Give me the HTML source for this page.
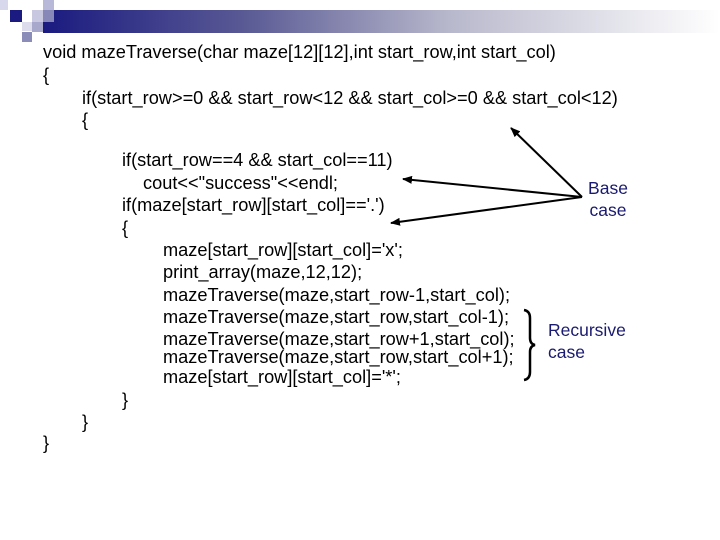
<!DOCTYPE html>
<html><head><style>
body{margin:0;width:720px;height:540px;background:#fff;position:relative;overflow:hidden;font-family:"Liberation Sans",Arial,sans-serif;}
.t{position:absolute;font-size:18.2px;line-height:22px;white-space:pre;color:#000;}
.b{position:absolute;font-size:17.5px;line-height:22px;color:#1a1a70;text-align:center;}
.sq{position:absolute;}
</style></head><body>
<div class="sq" style="left:43px;top:10px;width:677px;height:23px;background:linear-gradient(to right,#1a1a80 0%,#5a5a95 30%,#b8b8cc 60%,#fff 100%)"></div>
<div class="sq" style="left:0;top:0;width:8px;height:10px;background:#d8d8ec"></div>
<div class="sq" style="left:10px;top:10px;width:12px;height:12px;background:#1a1a80"></div>
<div class="sq" style="left:32px;top:10px;width:11px;height:12px;background:#c8c8e0"></div>
<div class="sq" style="left:43px;top:0;width:11px;height:10px;background:#b8b8d8"></div>
<div class="sq" style="left:43px;top:10px;width:11px;height:12px;background:#8888b8"></div>
<div class="sq" style="left:22px;top:22px;width:10px;height:9px;background:#dcdcec"></div>
<div class="sq" style="left:32px;top:22px;width:11px;height:10px;background:#a8a8cc"></div>
<div class="sq" style="left:22px;top:32px;width:10px;height:10px;background:#8c8cb8"></div>

<div class="t" style="left:43px;top:41px">void mazeTraverse(char maze[12][12],int start_row,int start_col)</div>
<div class="t" style="left:43px;top:64px">{</div>
<div class="t" style="left:82px;top:87px">if(start_row>=0 &amp;&amp; start_row&lt;12 &amp;&amp; start_col>=0 &amp;&amp; start_col&lt;12)</div>
<div class="t" style="left:82px;top:109px">{</div>
<div class="t" style="left:122px;top:149px">if(start_row==4 &amp;&amp; start_col==11)</div>
<div class="t" style="left:143px;top:172px">cout&lt;&lt;"success"&lt;&lt;endl;</div>
<div class="t" style="left:122px;top:194px">if(maze[start_row][start_col]=='.')</div>
<div class="t" style="left:122px;top:217px">{</div>
<div class="t" style="left:163px;top:239px">maze[start_row][start_col]='x';</div>
<div class="t" style="left:163px;top:261px">print_array(maze,12,12);</div>
<div class="t" style="left:163px;top:284px">mazeTraverse(maze,start_row-1,start_col);</div>
<div class="t" style="left:163px;top:306px">mazeTraverse(maze,start_row,start_col-1);</div>
<div class="t" style="left:163px;top:328px">mazeTraverse(maze,start_row+1,start_col);</div>
<div class="t" style="left:163px;top:346px">mazeTraverse(maze,start_row,start_col+1);</div>
<div class="t" style="left:163px;top:366px">maze[start_row][start_col]='*';</div>
<div class="t" style="left:122px;top:389px">}</div>
<div class="t" style="left:82px;top:411px">}</div>
<div class="t" style="left:43px;top:432px">}</div>

<div class="b" style="left:582px;top:177px;width:52px">Base<br>case</div>
<div class="b" style="left:548px;top:319px;text-align:left">Recursive<br>case</div>

<svg width="720" height="540" style="position:absolute;left:0;top:0">
<defs><marker id="a" markerWidth="10" markerHeight="8" refX="9" refY="4" orient="auto" markerUnits="userSpaceOnUse"><path d="M0,0 L10,4 L0,8 z" fill="#000"/></marker></defs>
<g stroke="#000" stroke-width="2" fill="none">
<line x1="582" y1="197" x2="511" y2="128" marker-end="url(#a)"/>
<line x1="582" y1="197" x2="403" y2="179" marker-end="url(#a)"/>
<line x1="582" y1="197" x2="391" y2="223" marker-end="url(#a)"/>
<path d="M524,310 Q530,311 530,318 L530,338 Q530,344 535,345 Q530,346 530,352 L530,372 Q530,379 524,380" stroke-width="2.5"/>
</g>
</svg>
</body></html>
